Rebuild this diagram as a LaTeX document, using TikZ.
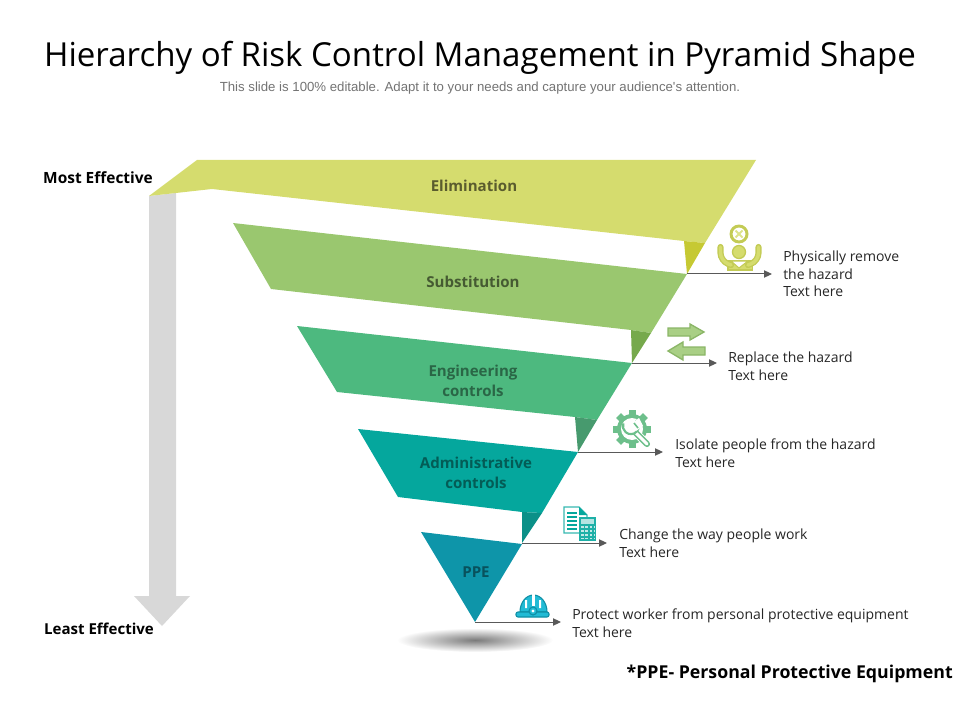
\documentclass[tikz,border=0pt]{standalone}
\usepackage{fontspec}
\setmainfont{Open Sans}
\newfontfamily\subfont{Liberation Sans}
\usetikzlibrary{arrows.meta, positioning}
\definecolor{elimcol}{HTML}{D5DC6E}
\definecolor{elimdark}{HTML}{C6C933}
\definecolor{subcol}{HTML}{9AC76F}
\definecolor{subdark}{HTML}{76A94C}
\definecolor{engcol}{HTML}{4DB97F}
\definecolor{engdark}{HTML}{479A6E}
\definecolor{admcol}{HTML}{05A79D}
\definecolor{admdark}{HTML}{0B9088}
\definecolor{ppecol}{HTML}{0E95A9}
\definecolor{barcol}{HTML}{D8D8D8}
\definecolor{linecol}{HTML}{595959}
\definecolor{txtcol}{HTML}{262626}
\definecolor{gearcol}{HTML}{6DBF8B}
\definecolor{helmcol}{HTML}{22BBD5}
\definecolor{helmline}{HTML}{0F8FA5}
\definecolor{personcol}{HTML}{C3CB55}
\tikzset{
  band/.style={font=\fontsize{11.3}{15}\selectfont\bfseries, align=center, inner sep=0pt},
  side/.style={font=\bfseries\fontsize{11.6}{13}\selectfont, text=black, inner sep=0pt},
  info/.style={font=\fontsize{10.5}{13.2}\selectfont, text=txtcol, align=left, anchor=west, inner sep=0pt},
  lead/.style={draw=linecol, line width=0.75pt, -{Triangle[length=6pt,width=5.5pt]}},
  swap/.style={fill=subcol!85!white, draw=subdark!85!white, line width=1pt},
}
\begin{document}
\begin{tikzpicture}[x=0.75pt, y=-0.75pt]
      \useasboundingbox (0,0) rectangle (960,720);
      % title
      \node[font=\fontsize{24.8}{30}\selectfont, text=black, inner sep=0pt] (title) at (480,58) {Hierarchy of Risk Control Management in Pyramid Shape};
      \node[font=\subfont\fontsize{9.9}{11}\selectfont, text=black!55, inner sep=0pt] (subtitle) at (480,88) {This slide is 100\% editable. Adapt it to your needs and capture your audience's attention.};
      % grey arrow
      \fill[barcol] (149,196) -- (176,193) -- (176,596) -- (190,596) -- (162,626) -- (134,596) -- (149,596) -- cycle;
      % shadow
      \shade[inner color=black!52, outer color=white] (475,640) ellipse (78 and 12);
      % bands
      \fill[elimcol] (149,196) -- (197,160) -- (756,160) -- (705,243) -- (684,241) -- (212,189) -- (176,193) -- cycle;
      \fill[elimdark] (684,241) -- (705,243) -- (687,274) -- cycle;
      \fill[subcol] (233,223) -- (687,274) -- (651,333) -- (631,330) -- (271,289) -- cycle;
      \fill[subdark] (631,330) -- (651,333) -- (632,363) -- cycle;
      \fill[engcol] (297,326) -- (632,363) -- (597,420) -- (575,417) -- (337,392) -- cycle;
      \fill[engdark] (575,417) -- (597,420) -- (578,452) -- cycle;
      \fill[admcol] (358,429) -- (578,452) -- (542,513) -- (522,512) -- (398,497) -- cycle;
      \fill[admdark] (522,512) -- (542,513) -- (522,543) -- cycle;
      \fill[ppecol] (421,532) -- (522,544) -- (475,622) -- cycle;
      % band labels
      \node[band, text=elimcol!42!black] (elim) at (474,186) {Elimination};
      \node[band, text=subcol!45!black] (subst) at (473,282) {Substitution};
      \node[band, text=engcol!55!black] (eng) at (473,381) {Engineering\\controls};
      \node[band, text=admcol!55!black] (adm) at (476,473) {Administrative\\controls};
      \node[band, text=ppecol!55!black] (ppe) at (476,572) {PPE};
      \node[side] (most) at (98,178) {Most Effective};
      \node[side, font=\bfseries\fontsize{11.3}{13}\selectfont] (least) at (99,629) {Least Effective};
      % leads
      \coordinate (tip1) at (687,274);
      \coordinate (tip2) at (632,363);
      \coordinate (tip3) at (578,452);
      \coordinate (tip4) at (522,543);
      \coordinate (tip5) at (475,622);
      \coordinate (end1) at (772,274);
      \coordinate (end2) at (717,363);
      \coordinate (end3) at (663,452);
      \coordinate (end4) at (607,543);
      \coordinate (end5) at (561,622);
      \draw[lead] (tip1) -- (end1);
      \draw[lead] (tip2) -- (end2);
      \draw[lead] (tip3) -- (end3);
      \draw[lead] (tip4) -- (end4);
      \draw[lead] (tip5) -- (end5);
      % texts
      \node[info] (txt1) at (783,274) {Physically remove\\the hazard\\Text here};
      \node[info] (txt2) at (728,366) {Replace the hazard\\Text here};
      \node[info] (txt3) at (675,453) {Isolate people from the hazard\\Text here};
      \node[info] (txt4) at (619,543) {Change the way people work\\Text here};
      \node[info] (txt5) at (572,623) {Protect worker from personal protective equipment\\Text here};
      \node[font=\bfseries\fontsize{13.3}{15}\selectfont, text=black, inner sep=0pt, anchor=east] (note) at (953,674) {*PPE- Personal Protective Equipment};
      % icon person
      \draw[personcol, line width=2.2pt] (739,234) circle (8);
      \draw[elimcol!80!white, line width=1.5pt] (735.5,230.5) -- (742.5,237.5) (742.5,230.5) -- (735.5,237.5);
      \fill[personcol] (727,260) rectangle (753,271);
      \fill[elimcol] (728.5,262) rectangle (751.5,269.5);
      \draw[personcol, line width=4.6pt, line cap=round, rounded corners=6pt] (720.5,247) -- (720.5,261) -- (731,265);
      \draw[personcol, line width=4.6pt, line cap=round, rounded corners=6pt] (758.5,247) -- (758.5,261) -- (748,265);
      \draw[elimcol, line width=2.6pt, line cap=round, rounded corners=6pt] (720.5,247) -- (720.5,261) -- (731,265);
      \draw[elimcol, line width=2.6pt, line cap=round, rounded corners=6pt] (758.5,247) -- (758.5,261) -- (748,265);
      \filldraw[fill=white, draw=personcol, line width=0.8pt] (731,261) -- (739,268) -- (748,261) -- cycle;
      \filldraw[fill=elimcol, draw=personcol, line width=1pt] (739,252) circle (6.5);
      % icon arrows
      \filldraw[swap] (668,328) -- (690,328) -- (690,324) -- (704,332) -- (690,340) -- (690,336) -- (668,336) -- cycle;
      \filldraw[swap] (705,347) -- (683,347) -- (683,342) -- (668,351) -- (683,360) -- (683,355) -- (705,355) -- cycle;
      % icon gear
      \foreach \ang in {0,45,...,315}
        \fill[gearcol, rotate around={\ang:(632,429)}] (628.5,410) rectangle (635.5,418);
      \fill[gearcol] (632,429) circle (15);
      \fill[white] (632,429) circle (11);
      \draw[white, line width=6pt] (631,428) -- (647,444);
      \draw[gearcol, line width=4.6pt, line cap=round] (631,428) -- (647,444);
      \draw[white, line width=2.2pt, line cap=round] (631,428) -- (647,444);
      \draw[gearcol, line width=1.6pt, fill=white] (636,420) arc (-50:200:8);
      \fill[white] (632,423) -- (639,418) -- (643,426) -- (636,431) -- cycle;
      \draw[gearcol, line width=1.2pt] (634,423) -- (638,428);
      % icon calculator
      \filldraw[fill=white, draw=admcol!80!white, line width=1pt] (564,507) -- (579,507) -- (587,515) -- (587,533) -- (564,533) -- cycle;
      \fill[admcol] (579,507) -- (587,515) -- (579,515) -- cycle;
      \foreach \yy in {513,517,521,525,529}
        \draw[admcol, line width=0.8pt] (567,\yy) -- (577,\yy);
      \fill[admcol!90!white] (579,517) rectangle (596,541);
      \fill[white!70!admcol] (581,519) rectangle (594,524);
      \foreach \yy in {527,531,535,538.5}
        \draw[white!75!admcol, line width=1.1pt, dash pattern=on 2pt off 1.2pt] (581,\yy) -- (594,\yy);
      % icon helmet
      \filldraw[fill=helmcol, draw=helmline, line width=0.8pt] (520,612) arc (180:360:13.5 and 17) -- cycle;
      \filldraw[fill=helmcol, draw=helmline, line width=0.8pt, rounded corners=1.5pt] (516,612) rectangle (549,617);
      \fill[white] (531.5,594) rectangle (534.5,606);
      \fill[white] (525,600) rectangle (527,608) (539,600) rectangle (541,608);
      \filldraw[fill=helmcol, draw=helmline, line width=0.8pt] (533,611) circle (4);
      \fill[white] (533,611) circle (1.6);
\end{tikzpicture}
\end{document}
